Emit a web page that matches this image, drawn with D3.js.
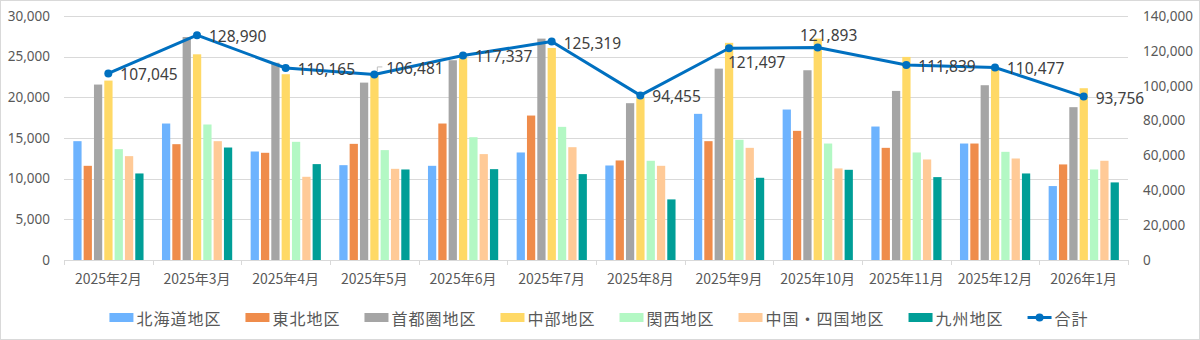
<!DOCTYPE html>
<html><head><meta charset="utf-8">
<script src="https://cdn.jsdelivr.net/npm/d3@7"></script>
<style>html,body{margin:0;padding:0;background:#fff;}svg{display:block;}</style>
</head><body>
<svg id="chart" width="1200" height="340"></svg>
<script>
const categories = ["2025年2月","2025年3月","2025年4月","2025年5月","2025年6月","2025年7月","2025年8月","2025年9月","2025年10月","2025年11月","2025年12月","2026年1月"];
const seriesNames = ["北海道地区","東北地区","首都圏地区","中部地区","関西地区","中国・四国地区","九州地区"];
const hokkaido = [14610,16780,13340,11660,11580,13220,11620,17970,18500,16410,14320,9090];
const tohoku   = [11580,14240,13180,14280,16780,17760,12240,14610,15880,13790,14320,11750];
const shutoken = [21570,27420,24250,21810,24560,27220,19280,23530,23330,20790,21490,18790];
const chubu    = [22060,25290,22840,22880,24880,26070,19970,26700,27220,24970,23530,21120];
const kansai   = [13630,16660,14530,13510,15100,16370,12200,14780,14320,13220,13300,11130];
const chushikoku = [12770,14610,10230,11210,13020,13870,11580,13790,11260,12360,12480,12200];
const kyushu   = [10640,13830,11790,11130,11170,10560,7450,10110,11090,10190,10640,9540];
const totalName = "合計";
const total = [107045,128990,110165,106481,117337,125319,94455,121497,121893,111839,110477,93756];
const leftTicks = [0,5000,10000,15000,20000,25000,30000];
const rightTicks = [0,20000,40000,60000,80000,100000,120000,140000];
const labelPlacement = ["right","right","right","leader","right","right","right","below","above","right","right","right"];

const seriesValues = [hokkaido,tohoku,shutoken,chubu,kansai,chushikoku,kyushu];
const colors = ["#6DB3FE","#EF8C4B","#A5A5A5","#FFD966","#B3F8C4","#FFCA97","#009E97"];
const lineColor = "#0070C0";

const svg = d3.select("#chart");
svg.append("rect").attr("x",0.5).attr("y",0.5).attr("width",1199).attr("height",339)
  .attr("fill","#fff").attr("stroke","#d9d9d9");

const L = 64, R = 1128, T = 16, B = 260;
const x0 = d3.scaleBand().domain(categories).range([L,R]).padding(0);
const bw0 = x0.bandwidth();
const x1 = d3.scaleBand().domain(seriesNames).range([bw0*0.105, bw0*0.897]).paddingInner(0.2).paddingOuter(0);
const yL = d3.scaleLinear().domain([0,30000]).range([B,T]);
const yR = d3.scaleLinear().domain([0,140000]).range([B,T]);

const numFont = "'Noto Sans', 'Liberation Sans', sans-serif";
const jpFont = "'Noto Sans CJK JP', 'Noto Sans', sans-serif";

// gridlines
svg.append("g").selectAll("line").data(leftTicks.filter(d=>d>0)).join("line")
  .attr("x1",L).attr("x2",R).attr("y1",d=>Math.round(yL(d))+0.5).attr("y2",d=>Math.round(yL(d))+0.5)
  .attr("stroke","#d9d9d9").attr("stroke-width",1);

// left axis labels
const fmt = d3.format(",");
const gl = svg.append("g").attr("transform",`translate(${L},0)`)
  .call(d3.axisLeft(yL).tickValues(leftTicks).tickFormat(fmt).tickSize(0).tickPadding(14));
gl.select(".domain").remove();
gl.selectAll("text").attr("font-family",numFont).attr("font-size","13.5px").attr("fill","#595959");

// right axis labels
const gr = svg.append("g").attr("transform",`translate(${R},0)`)
  .call(d3.axisRight(yR).tickValues(rightTicks).tickFormat(fmt).tickSize(0).tickPadding(15));
gr.select(".domain").remove();
gr.selectAll("text").attr("font-family",numFont).attr("font-size","13.5px").attr("fill","#595959");

// bars
const groups = svg.append("g").selectAll("g").data(categories).join("g")
  .attr("transform",d=>`translate(${x0(d)},0)`);
groups.selectAll("rect").data((c,i)=>seriesNames.map((s,j)=>({s, v: seriesValues[j][i], j})))
  .join("rect")
  .attr("x",d=>x1(d.s)).attr("width",x1.bandwidth())
  .attr("y",d=>yL(d.v)).attr("height",d=>B-yL(d.v))
  .attr("fill",d=>colors[d.j]);

// bottom axis
const gx = svg.append("g").attr("transform",`translate(0,${B})`)
  .call(d3.axisBottom(x0).tickSize(0).tickPadding(14));
gx.select(".domain").attr("stroke","#d9d9d9").attr("stroke-width",1.2);
gx.selectAll("text").attr("font-family",jpFont).attr("font-size","14px").attr("fill","#595959");
const bounds = categories.map(c=>x0(c)).concat([R]);
svg.append("g").selectAll("line").data(bounds).join("line")
  .attr("x1",d=>Math.round(d)+0.5).attr("x2",d=>Math.round(d)+0.5)
  .attr("y1",B).attr("y2",B+5).attr("stroke","#d9d9d9");

// total line
const cx = c => x0(c) + bw0/2;
const line = d3.line().x((d,i)=>cx(categories[i])).y(d=>yR(d));
svg.append("path").datum(total).attr("d",line).attr("fill","none")
  .attr("stroke",lineColor).attr("stroke-width",3).attr("stroke-linejoin","round");
svg.append("g").selectAll("circle").data(total).join("circle")
  .attr("cx",(d,i)=>cx(categories[i])).attr("cy",d=>yR(d)).attr("r",4)
  .attr("fill",lineColor);

// data labels
const lab = svg.append("g");
total.forEach((v,i)=>{
  const px = cx(categories[i]), py = yR(v);
  const p = labelPlacement[i];
  let tx = px + 12, ty = py + 1, anchor = "start";
  if (p === "leader") { tx = px + 12; ty = py - 6; 
    lab.append("path").attr("d",`M${px+3},${py-3} L${px+3},${py-7.5} L${px+8},${py-7.5}`)
      .attr("fill","none").attr("stroke","#bfbfbf").attr("stroke-width",1);
  }
  if (p === "below") { tx = px - 1; ty = py + 14; }
  if (p === "above") { tx = px + 11; ty = py - 13; anchor = "middle"; }
  lab.append("text").attr("x",tx).attr("y",ty).attr("text-anchor",anchor)
    .attr("dominant-baseline","central")
    .attr("font-family",numFont).attr("font-size","15.5px").attr("fill","#404040")
    .text(fmt(v));
});

// legend
const leg = svg.append("g");
const items = seriesNames.map((s,j)=>({name:s, color:colors[j], type:"rect"}))
  .concat([{name: totalName, color: lineColor, type:"line"}]);
let xpos = 0;
const legY = 317.5;
items.forEach(it=>{
  const g = leg.append("g").attr("transform",`translate(${xpos},0)`);
  if (it.type === "rect") {
    g.append("rect").attr("x",0).attr("y",legY-4.5).attr("width",24).attr("height",9).attr("fill",it.color);
  } else {
    g.append("line").attr("x1",0).attr("x2",24).attr("y1",legY).attr("y2",legY)
      .attr("stroke",it.color).attr("stroke-width",3);
    g.append("circle").attr("cx",12).attr("cy",legY).attr("r",4).attr("fill",it.color);
  }
  const t = g.append("text").attr("x",27).attr("y",legY).attr("dominant-baseline","central")
    .attr("font-family",jpFont).attr("font-size","16px").attr("letter-spacing","1px")
    .attr("fill","#595959").text(it.name);
  xpos += 27 + t.node().getComputedTextLength() + 24;
});
const legW = xpos - 24;
leg.attr("transform",`translate(${(1200-legW)/2 - 1},0)`);
</script>
</body></html>
